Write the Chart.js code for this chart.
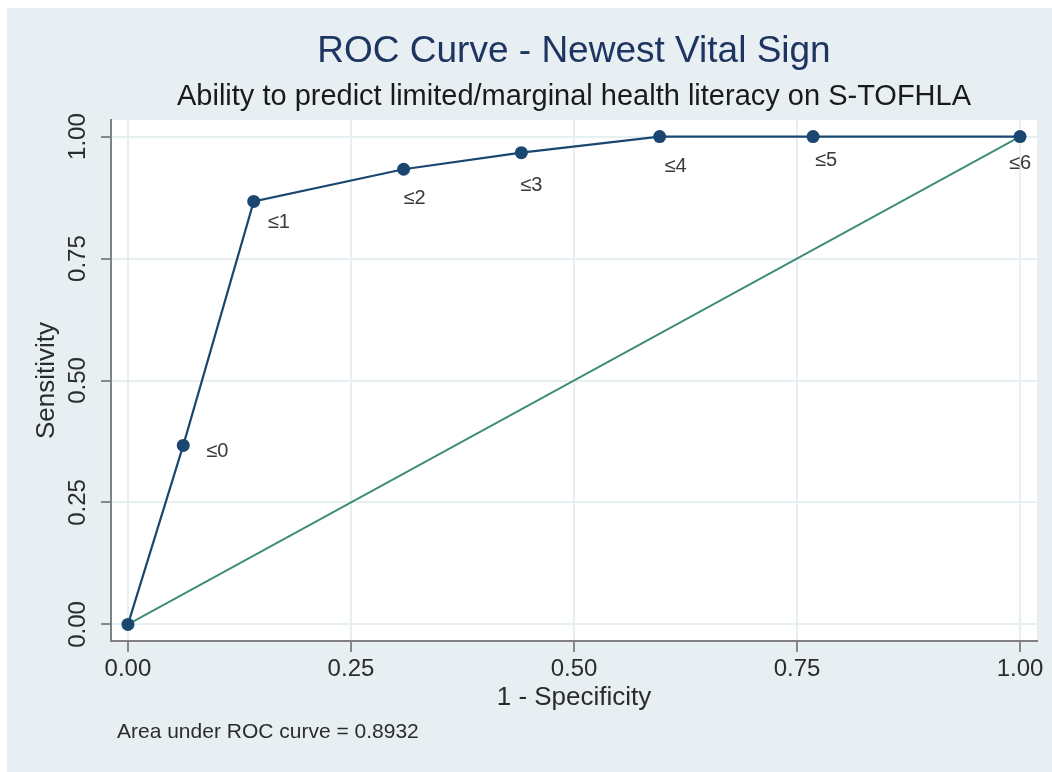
<!DOCTYPE html>
<html>
<head>
<meta charset="utf-8">
<script src="https://cdn.jsdelivr.net/npm/chart.js@4.4.1/dist/chart.umd.min.js"></script>
<style>
  html, body { margin: 0; padding: 0; background: #ffffff; overflow: hidden; }
  #wrap { position: absolute; left: 0; top: 0; width: 1052px; height: 772px; }
</style>
</head>
<body>
<div id="wrap"><canvas id="c"></canvas></div>
<script>
// ---- data ----
const fpr = [0, 0.062, 0.141, 0.309, 0.441, 0.596, 0.768, 1];
const sensitivity = [0, 0.367, 0.867, 0.933, 0.967, 1, 1, 1];
const cutLabels = ['', '≤0', '≤1', '≤2', '≤3', '≤4', '≤5', '≤6'];
const refX = [0, 1];
const refY = [0, 1];
const tickValues = [0, 0.25, 0.5, 0.75, 1];
const tickLabels = ['0.00', '0.25', '0.50', '0.75', '1.00'];
const titleText = 'ROC Curve - Newest Vital Sign';
const subtitleText = 'Ability to predict limited/marginal health literacy on S-TOFHLA';
const xTitle = '1 - Specificity';
const yTitle = 'Sensitivity';
const noteText = 'Area under ROC curve = 0.8932';

// ---- style ----
const FONT = '"Liberation Sans", Arial, Helvetica, sans-serif';
const NAVY = '#1a476f';
const GREEN = '#3d8b73';
const BG = '#e8eff2';
const GRID = '#e6eff1';
const TXT = '#2b2b2b';
// label offsets (pixels) relative to each marker, style only
const labelOffsets = [[0,0],[34,6],[25,21],[11,29],[10,33],[16,30],[13,24],[0,27]];

const rocPoints = fpr.map((x, i) => ({x: x, y: sensitivity[i]}));
const refPoints = refX.map((x, i) => ({x: x, y: refY[i]}));

const decorPlugin = {
  id: 'decor',
  beforeDraw(chart) {
    const {ctx, chartArea: a} = chart;
    ctx.save();
    ctx.fillStyle = '#ffffff';
    ctx.fillRect(0, 0, chart.width, chart.height);
    ctx.fillStyle = BG;
    ctx.fillRect(7, 8, chart.width - 7, chart.height - 8);
    ctx.fillStyle = '#ffffff';
    ctx.fillRect(a.left, a.top, a.right - a.left, a.bottom - a.top);
    ctx.restore();
  },
  afterDatasetsDraw(chart) {
    const {ctx} = chart;
    const meta = chart.getDatasetMeta(0);
    ctx.save();
    ctx.font = '20px ' + FONT;
    ctx.fillStyle = '#3a3a3a';
    ctx.textAlign = 'center';
    ctx.textBaseline = 'middle';
    meta.data.forEach((pt, i) => {
      const t = cutLabels[i];
      if (!t) return;
      const off = labelOffsets[i];
      ctx.fillText(t, pt.x + off[0], pt.y + off[1]);
    });
    ctx.restore();
  },
  afterDraw(chart) {
    const {ctx, chartArea: a} = chart;
    const cx = (a.left + a.right) / 2;
    ctx.save();
    ctx.textAlign = 'center';
    ctx.textBaseline = 'middle';
    ctx.fillStyle = '#1e3461';
    ctx.font = '37px ' + FONT;
    ctx.fillText(titleText, cx, 52);
    ctx.fillStyle = '#1a1a1a';
    ctx.font = '29px ' + FONT;
    ctx.fillText(subtitleText, cx, 97);
    // y tick labels, rotated
    const ys = chart.scales.y;
    ctx.fillStyle = TXT;
    ctx.font = '24px ' + FONT;
    tickValues.forEach((v, i) => {
      const py = ys.getPixelForValue(v);
      ctx.save();
      ctx.translate(78, py);
      ctx.rotate(-Math.PI / 2);
      ctx.fillText(tickLabels[i], 0, 0);
      ctx.restore();
    });
    // note
    ctx.textAlign = 'left';
    ctx.fillStyle = TXT;
    ctx.font = '21px ' + FONT;
    ctx.fillText(noteText, 117, 732);
    ctx.restore();
  }
};

new Chart(document.getElementById('c'), {
  type: 'scatter',
  data: {
    datasets: [
      {
        data: rocPoints,
        showLine: true,
        borderColor: NAVY,
        backgroundColor: NAVY,
        borderWidth: 2.2,
        pointRadius: 6.5,
        pointHoverRadius: 6.5,
        pointBackgroundColor: NAVY,
        pointBorderWidth: 0,
        clip: false,
        order: 0
      },
      {
        data: refPoints,
        showLine: true,
        borderColor: GREEN,
        backgroundColor: GREEN,
        borderWidth: 1.8,
        pointRadius: 0,
        clip: false,
        order: 1
      }
    ]
  },
  options: {
    responsive: true,
    maintainAspectRatio: false,
    animation: false,
    events: [],
    layout: { padding: { top: 120, left: 7, right: 15, bottom: 31 } },
    plugins: {
      legend: { display: false },
      tooltip: { enabled: false },
      title: { display: false }
    },
    scales: {
      x: {
        type: 'linear',
        min: -0.019,
        max: 1.019,
        afterBuildTicks: s => { s.ticks = tickValues.map(v => ({value: v})); },
        afterFit: s => { s.height = 100; },
        ticks: {
          callback: (v) => { const i = tickValues.indexOf(v); return i >= 0 ? tickLabels[i] : ''; },
          font: { family: FONT, size: 24 },
          color: TXT,
          padding: 3,
          maxRotation: 0,
          minRotation: 0
        },
        grid: { color: GRID, lineWidth: 2, drawTicks: true, tickLength: 11, tickColor: '#666', tickWidth: 1.5 },
        border: { display: true, color: '#808080', width: 2 },
        title: { display: true, text: xTitle, font: { family: FONT, size: 26 }, color: TXT, padding: { top: 4, bottom: 28 } }
      },
      y: {
        type: 'linear',
        min: -0.034,
        max: 1.034,
        afterBuildTicks: s => { s.ticks = tickValues.map(v => ({value: v})); },
        afterFit: s => { s.width = 104; },
        ticks: { display: false },
        grid: { color: GRID, lineWidth: 2, drawTicks: true, tickLength: 10, tickColor: '#666', tickWidth: 1.5 },
        border: { display: true, color: '#808080', width: 2 },
        title: { display: true, text: yTitle, font: { family: FONT, size: 26 }, color: TXT, padding: { top: 24, bottom: 0 } }
      }
    }
  },
  plugins: [decorPlugin]
});
</script>
</body>
</html>
